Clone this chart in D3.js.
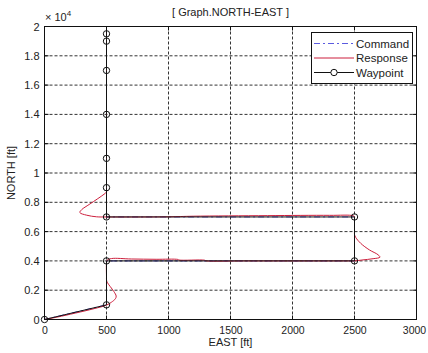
<!DOCTYPE html>
<html><head><meta charset="utf-8">
<script src="https://cdn.jsdelivr.net/npm/d3@7"></script>
<style>
body{margin:0;background:#fff;}
svg{display:block;font-family:"Liberation Sans",Arial,sans-serif;}
</style></head>
<body>
<svg id="c" width="428" height="353"></svg>
<script>
// ---- data ----
const titleText = "[ Graph.NORTH-EAST ]";
const xLabelText = "EAST [ft]";
const yLabelText = "NORTH [ft]";
const xTickValues = [0, 500, 1000, 1500, 2000, 2500, 3000];
const yTickValues = [0, 2000, 4000, 6000, 8000, 10000, 12000, 14000, 16000, 18000, 20000];
const yTickLabels = ["0", "0.2", "0.4", "0.6", "0.8", "1", "1.2", "1.4", "1.6", "1.8", "2"];
const legendNames = ["Command", "Response", "Waypoint"];

const waypointEast  = [0, 500, 500, 2500, 2500, 500, 500, 500, 500, 500, 500, 500, 500];
const waypointNorth = [0, 1000, 4000, 4000, 7000, 7000, 9000, 11000, 14000, 17000, 19000, 19500, 20000];

const commandEast  = [0, 500, 500, 2500, 2500, 500, 500];
const commandNorth = [0, 1000, 4000, 4000, 7000, 7000, 20000];

const responseEast  = [0, 100, 250, 400, 500, 540, 572, 578, 560, 530, 505, 500, 500, 500, 505, 540, 700, 900, 1075, 1085, 1290, 1300, 1640, 2450, 2500,
  2560, 2650, 2705, 2690, 2620, 2550, 2510, 2500, 2500, 2500, 2500, 2490, 2300, 1800, 1200, 1000, 500, 420, 340, 285, 300, 360, 430, 480, 500, 500, 500, 500];
const responseNorth = [0, 160, 440, 740, 980, 1180, 1420, 1600, 1900, 2250, 2550, 2700, 2900, 3850, 4050, 4160, 4130, 4110, 4100, 4060, 4050, 4010, 4000, 4000, 4000,
  4060, 4150, 4250, 4420, 4750, 5200, 5600, 5800, 6000, 6900, 7000, 7080, 7110, 7090, 7050, 7010, 7000, 7010, 7120, 7300, 7500, 7850, 8250, 8550, 8700, 8900, 19800, 20000];

// ---- layout ----
const W = 428, H = 353;
const X0 = 44.5, X1 = 416.5, Y0 = 319.5, Y1 = 26.5;
const svg = d3.select("#c");
const x = d3.scaleLinear().domain([0, 3000]).range([X0, X1]);
const y = d3.scaleLinear().domain([0, 20000]).range([Y0, Y1]);

svg.append("defs").append("clipPath").attr("id", "clip")
  .append("rect").attr("x", X0).attr("y", Y1).attr("width", X1 - X0).attr("height", Y0 - Y1);

// grid
const grid = svg.append("g").attr("stroke", "#333").attr("stroke-width", 1).attr("stroke-dasharray", "3,2");
grid.selectAll(".gx").data(xTickValues.slice(1, -1)).enter().append("line")
  .attr("x1", d => x(d)).attr("x2", d => x(d)).attr("y1", Y1).attr("y2", Y0);
grid.selectAll(".gy").data(yTickValues.slice(1, -1)).enter().append("line")
  .attr("y1", d => y(d)).attr("y2", d => y(d)).attr("x1", X0).attr("x2", X1);

// axes
const xAxis = d3.axisBottom(x).tickValues(xTickValues).tickSize(0).tickPadding(7).tickFormat(d3.format("d"));
const yAxis = d3.axisLeft(y).tickValues(yTickValues).tickSize(0).tickPadding(5).tickFormat((d, i) => yTickLabels[i]);
const gx = svg.append("g").attr("transform", `translate(0,${Y0})`).call(xAxis);
const gy = svg.append("g").attr("transform", `translate(${X0},0)`).call(yAxis);
[gx, gy].forEach(g => {
  g.select(".domain").remove();
  g.selectAll("text").attr("font-size", 11).attr("fill", "#222").attr("font-family", "Liberation Sans, Arial, sans-serif");
});
gx.selectAll("text").attr("font-size", 10.5);
gx.selectAll("text").filter(d => d === 3000).attr("dx", -2.5);

// inside tick marks on all four sides
const tk = svg.append("g").attr("stroke", "#111").attr("stroke-width", 1);
xTickValues.forEach(v => {
  tk.append("line").attr("x1", x(v)).attr("x2", x(v)).attr("y1", Y0).attr("y2", Y0 - 4);
  tk.append("line").attr("x1", x(v)).attr("x2", x(v)).attr("y1", Y1).attr("y2", Y1 + 4);
});
yTickValues.forEach(v => {
  tk.append("line").attr("y1", y(v)).attr("y2", y(v)).attr("x1", X0).attr("x2", X0 + 4);
  tk.append("line").attr("y1", y(v)).attr("y2", y(v)).attr("x1", X1).attr("x2", X1 - 4);
});

// data lines
const line = d3.line().x(d => x(d[0])).y(d => y(d[1]));
const plot = svg.append("g").attr("clip-path", "url(#clip)");
const cmd = commandEast.map((e, i) => [e, commandNorth[i]]);
const resp = responseEast.map((e, i) => [e, responseNorth[i]]);
const wp = waypointEast.map((e, i) => [e, waypointNorth[i]]);
plot.append("path").datum(cmd).attr("d", line).attr("fill", "none")
  .attr("stroke", "#5b5be0").attr("stroke-width", 1).attr("stroke-dasharray", "6,3,2,3");
plot.append("path").datum(resp).attr("d", d3.line().curve(d3.curveCatmullRom.alpha(0.5)).x(d => x(d[0])).y(d => y(d[1])))
  .attr("fill", "none").attr("stroke", "#cc1f3c").attr("stroke-width", 1);
plot.append("path").datum(wp).attr("d", line).attr("fill", "none")
  .attr("stroke", "#111").attr("stroke-width", 1);
svg.append("g").selectAll("circle").data(wp.filter(d => d[1] < 20000)).enter().append("circle")
  .attr("cx", d => x(d[0])).attr("cy", d => y(d[1])).attr("r", 3.2)
  .attr("fill", "none").attr("stroke", "#111").attr("stroke-width", 1);

// box
svg.append("rect").attr("x", X0).attr("y", Y1).attr("width", X1 - X0).attr("height", Y0 - Y1)
  .attr("fill", "none").attr("stroke", "#111").attr("stroke-width", 1);

// exponent
const ex = svg.append("text").attr("x", 45).attr("y", 21).attr("font-size", 11).attr("fill", "#222");
ex.append("tspan").text("× 10");
ex.append("tspan").attr("dy", -5).attr("font-size", 8).text("4");

// title & labels
svg.append("text").attr("x", (X0 + X1) / 2).attr("y", 16).attr("text-anchor", "middle")
  .attr("font-size", 11).attr("fill", "#222").text(titleText);
svg.append("text").attr("x", (X0 + X1) / 2).attr("y", 346).attr("text-anchor", "middle")
  .attr("font-size", 11).attr("fill", "#222").text(xLabelText);
svg.append("text").attr("transform", `translate(15,${(Y0 + Y1) / 2}) rotate(-90)`)
  .attr("text-anchor", "middle").attr("font-size", 11).attr("fill", "#222").text(yLabelText);

// legend
const lg = svg.append("g");
lg.append("rect").attr("x", 311.5).attr("y", 32.5).attr("width", 101).attr("height", 51)
  .attr("fill", "#fff").attr("stroke", "#111").attr("stroke-width", 1);
const ly = [43.5, 58, 72.5];
const styles = [
  {stroke: "#5b5be0", dash: "6,3,2,3"},
  {stroke: "#cc1f3c", dash: null},
  {stroke: "#111", dash: null}
];
legendNames.forEach((n, i) => {
  lg.append("line").attr("x1", 314).attr("x2", 354).attr("y1", ly[i]).attr("y2", ly[i])
    .attr("stroke", styles[i].stroke).attr("stroke-width", 1).attr("stroke-dasharray", styles[i].dash);
  if (i === 2) lg.append("circle").attr("cx", 334).attr("cy", ly[i]).attr("r", 3.2)
    .attr("fill", "#fff").attr("stroke", "#111");
  lg.append("text").attr("x", 356).attr("y", ly[i] + 4).attr("font-size", 11.5).attr("fill", "#222").text(n);
});
</script>
</body></html>
